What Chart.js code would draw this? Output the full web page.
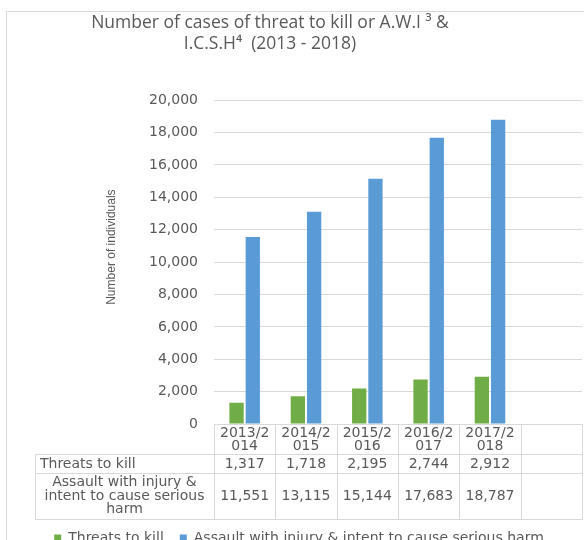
<!DOCTYPE html>
<html>
<head>
<meta charset="utf-8">
<script src="https://cdn.jsdelivr.net/npm/chart.js@4/dist/chart.umd.min.js"></script>
<style>
html,body{margin:0;padding:0;background:#fff;overflow:hidden}
#wrap{width:584px;height:540px;overflow:hidden;position:relative}
canvas{display:block}
</style>
</head>
<body>
<div id="wrap"><canvas id="c" width="584" height="559"></canvas></div>
<script>
// ---- data ----
const categories = ["2013/2014", "2014/2015", "2015/2016", "2016/2017", "2017/2018", ""];
const threatsToKill = [1317, 1718, 2195, 2744, 2912, null];
const assaultWithInjury = [11551, 13115, 15144, 17683, 18787, null];
const seriesNames = ["Threats to kill", "Assault with injury & intent to cause serious harm"];
const tableRowLabels = [["Threats to kill"], ["Assault with injury &", "intent to cause serious", "harm"]];
const titleLines = ["Number of cases of threat to kill or A.W.I \u00B3 &", "I.C.S.H\u2074  (2013 - 2018)"];
const yAxisTitle = "Number of individuals";
const yMin = 0, yMax = 20000, yStep = 2000;

const GREEN = "#70AD47", BLUE = "#5B9BD5";
const TEXT = "#595959", LINE = "#D9D9D9";
const TABLE_FONT = "14px 'DejaVu Sans'";
const fmt = v => (v === null || v === undefined) ? "" : v.toLocaleString("en-US");

const framePlugin = {
  id: "frame",
  beforeDraw(chart) {
    const ctx = chart.ctx;
    ctx.save();
    ctx.strokeStyle = LINE;
    ctx.lineWidth = 1;
    ctx.strokeRect(6.5, 11.5, 700, 700);
    ctx.restore();
  }
};

const shiftPlugin = {
  id: "shift",
  afterLayout(chart) {
    if (chart.titleBlock) {
      chart.titleBlock.right = chart.titleBlock.left + 540;
    }
    if (chart.legend) {
      chart.legend.left += 8;
      chart.legend.right += 8;
      chart.legend.top -= 4;
      chart.legend.bottom -= 4;
    }
    const s = chart.scales.y;
    if (s && !s._shifted) {
      const orig = s.drawTitle.bind(s);
      s.drawTitle = function () {
        this.ctx.save();
        this.ctx.translate(0, -15);
        orig();
        this.ctx.restore();
      };
      s._shifted = true;
    }
  }
};

const tablePlugin = {
  id: "dataTable",
  afterDraw(chart) {
    const ctx = chart.ctx;
    const xs = chart.scales.x;
    const ca = chart.chartArea;
    const n = categories.length;
    const bounds = [];
    for (let i = 0; i <= n; i++) {
      if (i === 0) bounds.push(ca.left);
      else if (i === n) bounds.push(ca.right);
      else bounds.push((xs.getPixelForValue(i - 1) + xs.getPixelForValue(i)) / 2);
    }
    const top = ca.bottom;
    const hdrBottom = top + 30;
    const r1Bottom = top + 49;
    const r2Bottom = xs.bottom;
    const labelLeft = 35;
    ctx.save();
    ctx.strokeStyle = LINE;
    ctx.lineWidth = 1;
    ctx.beginPath();
    [hdrBottom, r1Bottom, r2Bottom].forEach(y => {
      ctx.moveTo(labelLeft, Math.round(y) + 0.5);
      ctx.lineTo(ca.right, Math.round(y) + 0.5);
    });
    ctx.moveTo(labelLeft + 0.5, Math.round(hdrBottom));
    ctx.lineTo(labelLeft + 0.5, Math.round(r2Bottom) + 1);
    bounds.forEach(b => {
      ctx.moveTo(Math.round(b) + 0.5, Math.round(top));
      ctx.lineTo(Math.round(b) + 0.5, Math.round(r2Bottom) + 1);
    });
    ctx.stroke();

    ctx.fillStyle = TEXT;
    ctx.font = TABLE_FONT;
    ctx.textBaseline = "middle";
    const rows = [threatsToKill, assaultWithInjury];
    const rowCenters = [(hdrBottom + r1Bottom) / 2 + 1, (r1Bottom + r2Bottom) / 2];
    ctx.textAlign = "center";
    rows.forEach((row, r) => {
      row.forEach((v, i) => {
        ctx.fillText(fmt(v), xs.getPixelForValue(i), rowCenters[r]);
      });
    });
    // row labels
    ctx.textAlign = "left";
    ctx.fillText(tableRowLabels[0][0], 40, rowCenters[0]);
    ctx.textAlign = "center";
    const lines = tableRowLabels[1];
    const lh = 13.5;
    const cx = (labelLeft + ca.left) / 2;
    lines.forEach((t, k) => {
      ctx.fillText(t, cx, rowCenters[1] + (k - (lines.length - 1) / 2) * lh);
    });
    ctx.restore();
  }
};

new Chart(document.getElementById("c"), {
  type: "bar",
  data: {
    labels: categories,
    datasets: [
      { label: seriesNames[0], data: threatsToKill, backgroundColor: GREEN, categoryPercentage: 0.53, barPercentage: 0.88 },
      { label: seriesNames[1], data: assaultWithInjury, backgroundColor: BLUE, categoryPercentage: 0.53, barPercentage: 0.88 }
    ]
  },
  options: {
    responsive: false,
    animation: false,
    devicePixelRatio: 1,
    layout: { padding: { left: 0, right: 2, top: 0, bottom: 0 } },
    plugins: {
      title: {
        display: true,
        text: titleLines,
        color: TEXT,
        font: { family: "'Open Sans'", size: 17.5, weight: "normal", lineHeight: 1.22 },
        padding: { top: 12, bottom: 45.5 }
      },
      legend: {
        position: "bottom",
        labels: {
          color: TEXT,
          font: { family: "'DejaVu Sans'", size: 14 },
          boxWidth: 7,
          boxHeight: 7,
          padding: 16
        }
      },
      tooltip: { enabled: false }
    },
    scales: {
      x: {
        grid: { display: false, drawTicks: false },
        border: { display: false },
        ticks: {
          color: TEXT,
          font: { family: "'DejaVu Sans'", size: 14, lineHeight: 0.93 },
          padding: 3,
          maxRotation: 0,
          autoSkip: false,
          callback: function (v, i) {
            const l = categories[i];
            return l.length > 6 ? [l.slice(0, 6), l.slice(6)] : l;
          }
        },
        afterFit(scale) { scale.height = 95; }
      },
      y: {
        min: yMin,
        max: yMax,
        grid: { color: LINE, drawTicks: false },
        border: { display: false },
        ticks: {
          stepSize: yStep,
          color: TEXT,
          font: { family: "'DejaVu Sans'", size: 14 },
          padding: 16,
          callback: v => fmt(v)
        },
        title: {
          display: true,
          text: yAxisTitle,
          color: TEXT,
          font: { family: "'Liberation Sans Narrow', 'Liberation Sans'", size: 12 },
          padding: { top: 104, bottom: 0 }
        },
        afterFit(scale) { scale.width = 214; }
      }
    }
  },
  plugins: [framePlugin, shiftPlugin, tablePlugin]
});
</script>
</body>
</html>
